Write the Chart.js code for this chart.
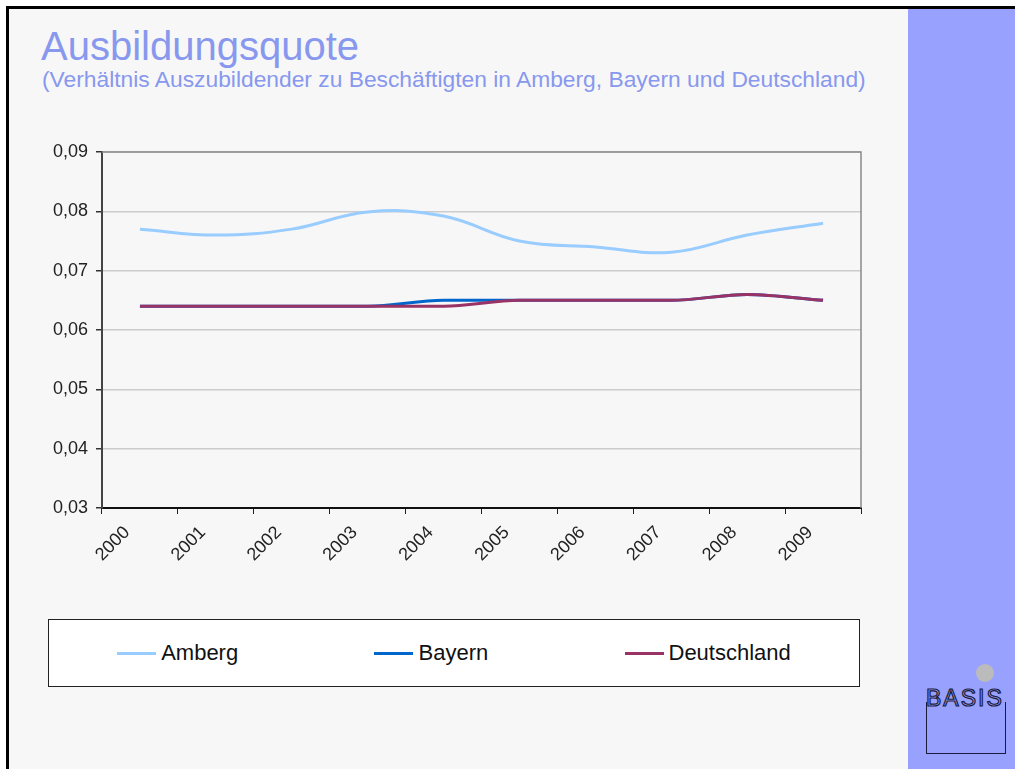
<!DOCTYPE html>
<html lang="de">
<head>
    <meta charset="UTF-8">
    <title>Ausbildungsquote</title>
    <script src="https://cdn.jsdelivr.net/npm/chart.js"></script>
    <style>
        body {
            margin: 0;
            width: 1015px;
            height: 769px;
            background-color: #ffffff;
            overflow: hidden;
            font-family: "Liberation Sans", Arial, sans-serif;
        }
        .frame {
            position: absolute;
            left: 6px;
            top: 6px;
            width: 1009px;
            height: 763px;
            border-top: 3px solid #000;
            border-left: 3px solid #000;
            background-color: #f7f7f7;
        }
        .band {
            position: absolute;
            left: 908px;
            top: 9px;
            width: 107px;
            height: 760px;
            background-color: #98a2fe;
        }
        .title {
            position: absolute;
            left: 41px;
            top: 24px;
            font-size: 40px;
            color: #8898ee;
            white-space: nowrap;
        }
        .subtitle {
            position: absolute;
            left: 42px;
            top: 66px;
            font-size: 22.8px;
            color: #8898ee;
            white-space: nowrap;
        }
        #chartBox {
            position: absolute;
            left: 0;
            top: 120px;
            width: 900px;
            height: 460px;
        }
        #legend {
            position: absolute;
            left: 48px;
            top: 619px;
            width: 810px;
            height: 66px;
            border: 1px solid #222;
            background-color: #fff;
            display: flex;
            justify-content: space-around;
            align-items: center;
        }
        .item {
            display: flex;
            align-items: center;
            font-size: 22px;
            color: #111;
        }
        .item span.swatch {
            display: inline-block;
            width: 39px;
            height: 3px;
            margin-right: 5px;
        }
        .logo-dot {
            position: absolute;
            left: 976px;
            top: 664px;
            width: 18px;
            height: 18px;
            border-radius: 50%;
            background-color: #bbbbbb;
        }
        .logo {
            position: absolute;
            left: 926px;
            top: 702px;
            width: 78px;
            height: 51px;
            border: 1.5px solid #1a1a3a;
            border-top: none;
        }
        .logo-text {
            position: absolute;
            left: 926px;
            top: 685px;
            font-size: 23px;
            letter-spacing: 2px;
            color: #98a2fe;
            -webkit-text-stroke: 1.2px #1a1a3a;
        }
    </style>
</head>
<body>
    <div class="frame"></div>
    <div class="band"></div>
    <div class="title">Ausbildungsquote</div>
    <div class="subtitle">(Verhältnis Auszubildender zu Beschäftigten in Amberg, Bayern und Deutschland)</div>
    <div id="chartBox"><canvas id="quoteChart"></canvas></div>
    <div id="legend"></div>
    <div class="logo-dot"></div>
    <div class="logo"></div>
    <div class="logo-text">BASIS</div>

    <script>
        // Data
        const years = ['2000', '2001', '2002', '2003', '2004', '2005', '2006', '2007', '2008', '2009'];
        const amberg = [0.0770, 0.0760, 0.0770, 0.0799, 0.0792, 0.0750, 0.0740, 0.0731, 0.0760, 0.0780];
        const bayern = [0.064, 0.064, 0.064, 0.064, 0.065, 0.065, 0.065, 0.065, 0.066, 0.065];
        const deutschland = [0.064, 0.064, 0.064, 0.064, 0.064, 0.065, 0.065, 0.065, 0.066, 0.065];
        const yTicks = [0.03, 0.04, 0.05, 0.06, 0.07, 0.08, 0.09];

        // later series are painted on top, like in the original
        const series = [
            { label: 'Amberg', data: amberg, color: '#99ccff', mode: 'default', order: 3 },
            { label: 'Bayern', data: bayern, color: '#0066cc', mode: 'monotone', order: 2 },
            { label: 'Deutschland', data: deutschland, color: '#993366', mode: 'monotone', order: 1 }
        ];

        // Frame on top and right edge of the plot area
        const plotFrame = {
            id: 'plotFrame',
            afterDraw(chart) {
                const a = chart.chartArea;
                const ctx = chart.ctx;
                ctx.save();
                ctx.strokeStyle = '#8a8a8a';
                ctx.lineWidth = 1.5;
                ctx.beginPath();
                ctx.moveTo(a.left, a.top);
                ctx.lineTo(a.right, a.top);
                ctx.lineTo(a.right, a.bottom);
                ctx.stroke();
                ctx.restore();
            }
        };

        const ctx = document.getElementById('quoteChart').getContext('2d');
        new Chart(ctx, {
            type: 'line',
            data: {
                labels: years,
                datasets: series.map(s => ({
                    label: s.label,
                    data: s.data,
                    order: s.order,
                    borderColor: s.color,
                    backgroundColor: s.color,
                    borderWidth: 3,
                    pointRadius: 0,
                    tension: 0.4,
                    cubicInterpolationMode: s.mode,
                    fill: false
                }))
            },
            options: {
                responsive: true,
                maintainAspectRatio: false,
                animation: false,
                layout: { padding: { top: 32, right: 39, left: 0, bottom: 0 } },
                plugins: {
                    legend: { display: false },
                    tooltip: { enabled: false }
                },
                scales: {
                    x: {
                        offset: true,
                        grid: {
                            offset: true,
                            drawOnChartArea: false,
                            drawTicks: true,
                            tickLength: 6,
                            tickColor: '#222'
                        },
                        border: { color: '#111', width: 2 },
                        ticks: {
                            minRotation: 45,
                            maxRotation: 45,
                            padding: 8,
                            labelOffset: -13,
                            color: '#222',
                            font: { family: 'Liberation Sans', size: 18 }
                        },
                        afterFit: scale => { scale.height = 72; }
                    },
                    y: {
                        min: 0.03,
                        max: 0.09,
                        afterBuildTicks: scale => {
                            scale.ticks = yTicks.map(v => ({ value: v }));
                        },
                        grid: {
                            color: '#cccccc',
                            lineWidth: 1.5,
                            tickLength: 6,
                            tickColor: '#333'
                        },
                        border: { color: '#444', width: 2 },
                        ticks: {
                            color: '#222',
                            padding: 8,
                            font: { family: 'Liberation Sans', size: 18 },
                            callback: v => v.toFixed(2).replace('.', ',')
                        },
                        afterFit: scale => { scale.width = 102; }
                    }
                }
            },
            plugins: [plotFrame]
        });

        // HTML legend built from the series
        const legend = document.getElementById('legend');
        series.forEach(s => {
            const item = document.createElement('div');
            item.className = 'item';
            const sw = document.createElement('span');
            sw.className = 'swatch';
            sw.style.backgroundColor = s.color;
            item.appendChild(sw);
            item.appendChild(document.createTextNode(s.label));
            legend.appendChild(item);
        });
    </script>
</body>
</html>
